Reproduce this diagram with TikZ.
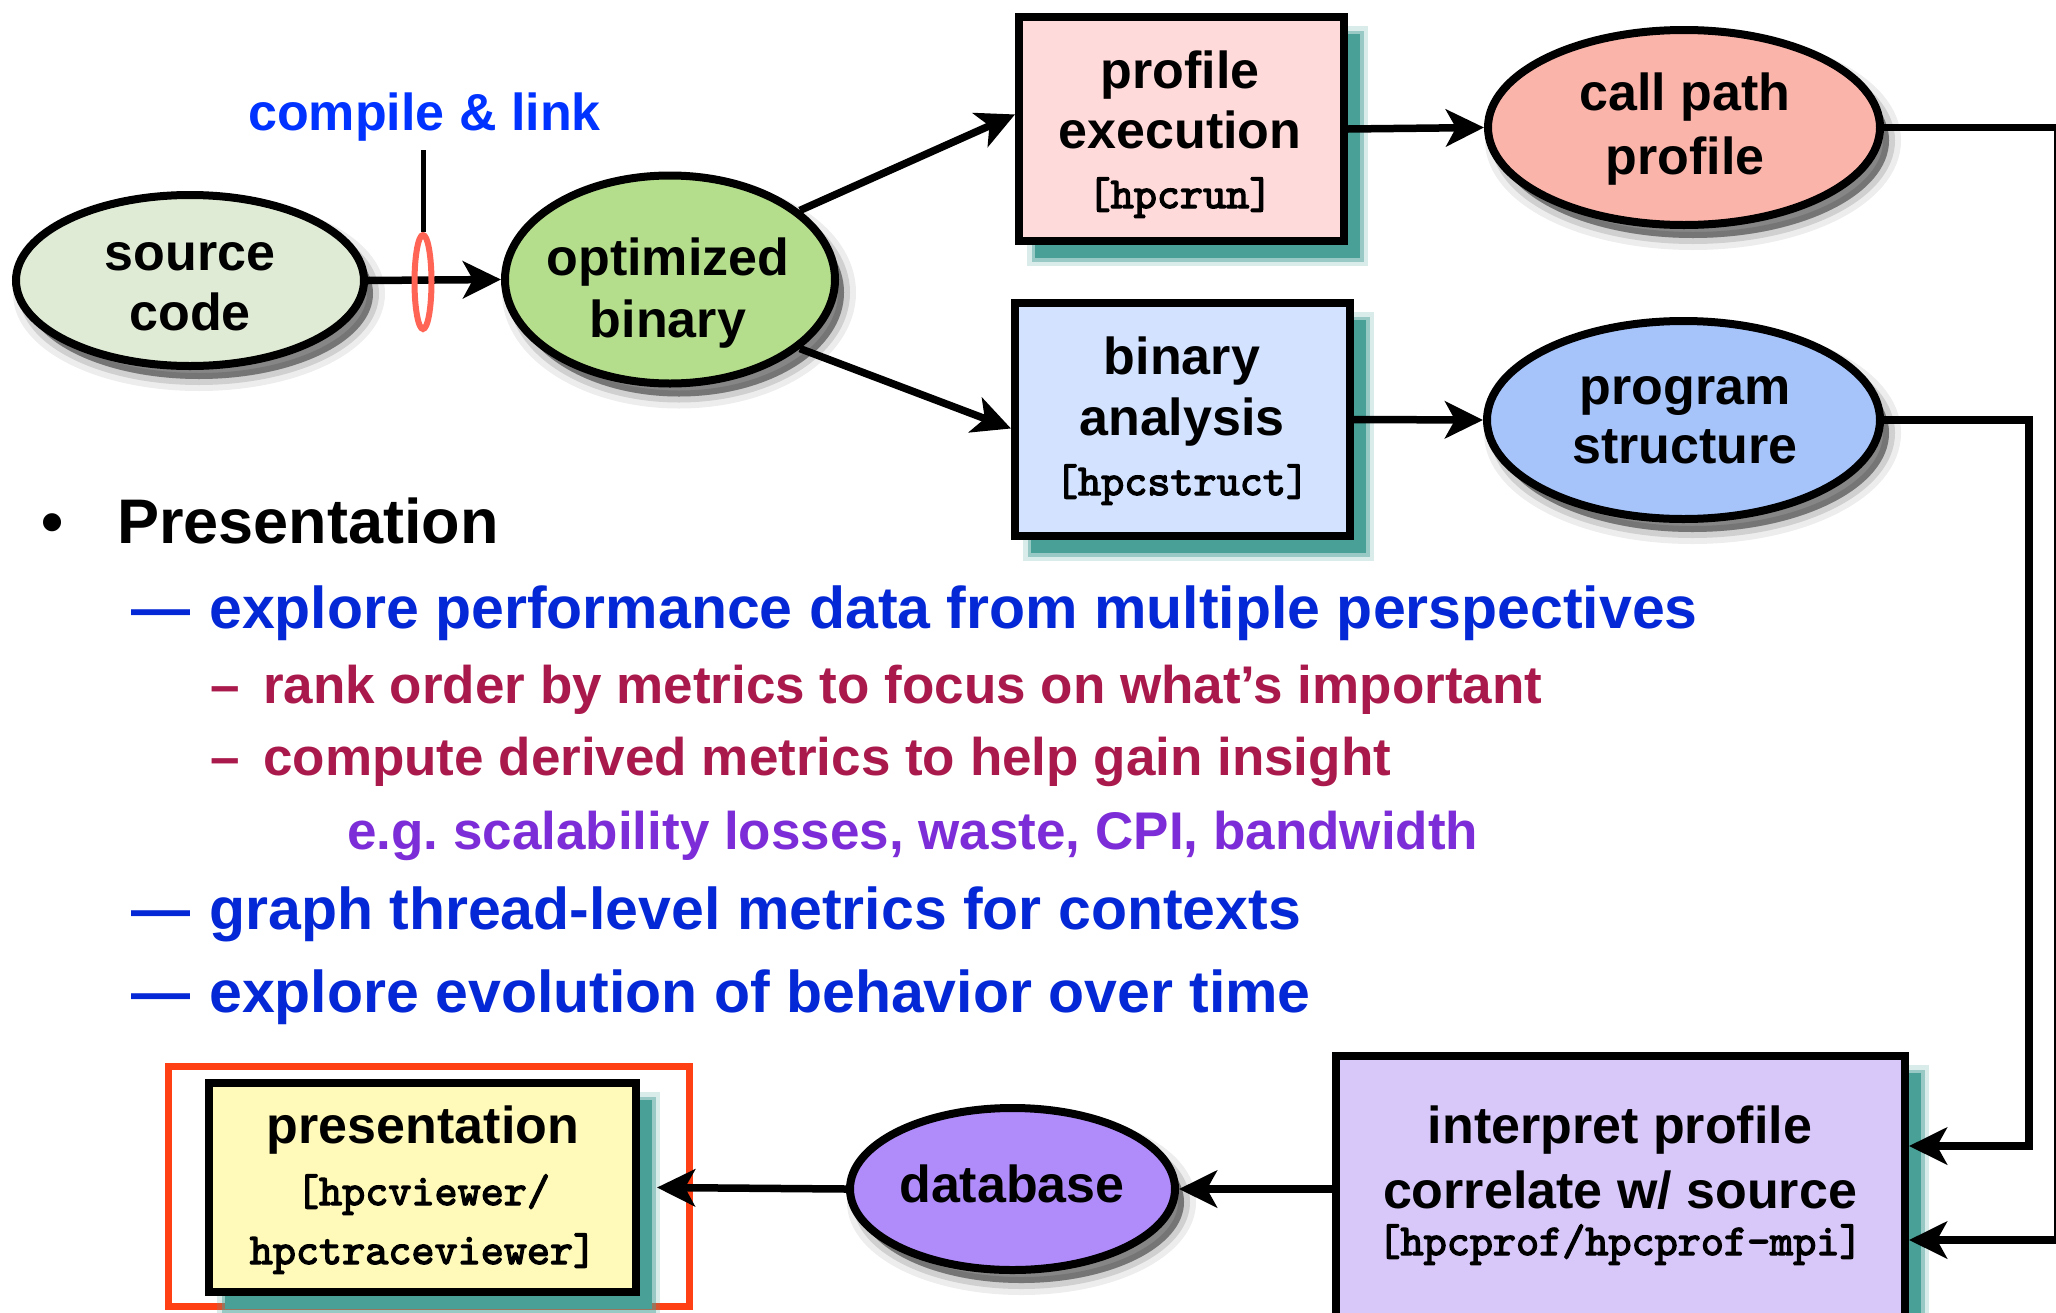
\documentclass[tikz,border=0pt]{standalone}
\usepackage{fontspec}
\setmainfont{Liberation Sans}
\newfontfamily\codefam{lmmono10-regular.otf}[FakeBold=3]
\usetikzlibrary{shapes.geometric,arrows.meta,shadows,calc}
\definecolor{fsrc}{RGB}{224,235,213}
\definecolor{fopt}{RGB}{180,221,140}
\definecolor{fpe}{RGB}{255,218,218}
\definecolor{fcp}{RGB}{251,180,170}
\definecolor{fba}{RGB}{210,226,255}
\definecolor{fps}{RGB}{166,196,250}
\definecolor{fip}{RGB}{216,200,250}
\definecolor{fdb}{RGB}{176,140,250}
\definecolor{fpr}{RGB}{255,250,185}
\definecolor{tealsh}{RGB}{72,160,150}
\definecolor{hlor}{RGB}{255,64,20}
\definecolor{redo}{RGB}{255,100,85}
\definecolor{cblue}{RGB}{0,51,255}
\definecolor{lblue}{RGB}{5,40,215}
\definecolor{crim}{RGB}{170,25,75}
\definecolor{purp}{RGB}{125,45,215}
\newcommand\myf[1]{\fontsize{#1}{#1}\selectfont\bfseries}
\newcommand\myc[1]{\fontsize{#1}{#1}\selectfont}
\tikzset{
  tshadow/.style={
    general shadow={shadow xshift=16pt,shadow yshift=-17pt,fill=tealsh,draw=tealsh,line width=16pt,opacity=0.2},
    general shadow={shadow xshift=16pt,shadow yshift=-17pt,fill=tealsh,draw=tealsh,line width=7pt,opacity=0.45},
    general shadow={shadow xshift=16pt,shadow yshift=-17pt,fill=tealsh,draw=none,opacity=1}},
  gshadow/.style={
    general shadow={shadow xshift=9pt,shadow yshift=-13pt,fill=black,draw=black,line width=24pt,opacity=0.07},
    general shadow={shadow xshift=9pt,shadow yshift=-13pt,fill=black,draw=black,line width=12pt,opacity=0.12},
    general shadow={shadow xshift=9pt,shadow yshift=-13pt,fill=black,draw=none,opacity=0.3}},
  boxshape/.style={rectangle, draw=black, line width=8pt, inner sep=0pt, tshadow},
  ellshape/.style={ellipse, draw=black, line width=8pt, inner sep=0pt, gshadow},
  arr/.style={line width=7.5pt, line join=miter, -{Stealth[length=38pt,width=37pt,inset=10pt]}},
  lbl/.style={inner sep=0pt, anchor=base, font=\myf{52}},
  code/.style={inner sep=0pt, anchor=base, font=\codefam\myc{44}},
  lst/.style={inner sep=0pt, anchor=base west}
}
\begin{document}
\frenchspacing
\begin{tikzpicture}[x=1pt,y=-1pt]
\useasboundingbox (0,0) rectangle (2056,1312);
\clip (0,0) rectangle (2056,1312);
\fill[white] (0,0) rectangle (2056,1312);

% shapes
\node[ellshape, fill=fsrc, minimum width=348pt, minimum height=171pt] (src) at (190,280.5) {};
\node[ellshape, fill=fopt, minimum width=330pt, minimum height=208pt] (opt) at (670,279.5) {};
\node[boxshape, fill=fpe, minimum width=325pt, minimum height=224pt] (pe) at (1181.5,129) {};
\node[ellshape, fill=fcp, minimum width=392pt, minimum height=195pt] (cp) at (1684,127.5) {};
\node[boxshape, fill=fba, minimum width=335pt, minimum height=233pt] (ba) at (1182.5,419.5) {};
\node[ellshape, fill=fps, minimum width=393pt, minimum height=198pt] (ps) at (1683.5,420) {};
\node[boxshape, fill=fip, minimum width=569pt, minimum height=280pt] (ip) at (1620.5,1196) {};
\node[ellshape, fill=fdb, minimum width=325pt, minimum height=162pt] (db) at (1012.5,1189) {};
\node[draw=hlor, line width=7pt, inner sep=0pt, minimum width=521pt, minimum height=240pt] (hl) at (429,1186.75) {};
\node[boxshape, fill=fpr, minimum width=427pt, minimum height=209pt] (pr) at (422.5,1187.5) {};

% labels in shapes
\node[lbl] (tSrc1) at (190,270) {source};
\node[lbl] (tSrc2) at (190,330) {code};
\node[lbl] (tOpt1) at (668,275) {optimized};
\node[lbl] (tOpt2) at (668,337) {binary};
\node[lbl] (tPE1) at (1180,88) {profile};
\node[lbl] (tPE2) at (1180,148) {execution};
\node[code] (tPE3) at (1180,208) {[hpcrun]};
\node[lbl] (tCP1) at (1685,110) {call path};
\node[lbl] (tCP2) at (1685,174) {profile};
\node[lbl] (tBA1) at (1182,374) {binary};
\node[lbl] (tBA2) at (1182,435) {analysis};
\node[code] (tBA3) at (1182,495) {[hpcstruct]};
\node[lbl] (tPS1) at (1685,404) {program};
\node[lbl] (tPS2) at (1685,463) {structure};
\node[lbl] (tIP1) at (1620,1143) {interpret profile};
\node[lbl] (tIP2) at (1620,1208) {correlate w/ source};
\node[code] (tIP3) at (1620,1255) {[hpcprof/hpcprof-mpi]};
\node[lbl] (tDB) at (1012,1202) {database};
\node[lbl] (tPR1) at (423,1143) {presentation};
\node[code] (tPR2) at (423,1205) {[hpcviewer/};
\node[code] (tPR3) at (423,1264) {hpctraceviewer]};

% compile & link
\node[lbl, text=cblue] (tCL) at (424.5,130) {compile \& link};
\draw[arr] (src.east) -- (opt.west);
\node[ellipse, draw=redo, line width=6pt, inner sep=0pt, minimum width=17pt, minimum height=94pt] (cl) at (423,282) {};
\coordinate (tick) at (423,150);
\draw[line width=5pt] (tick) -- (cl.north);

% connectors
\draw[arr] (opt.28) -- (pe.175);
\draw[arr] (opt.-28) -- (ba.183.5);
\draw[arr] (pe.east) -- (cp.west);
\draw[arr] (ba.east) -- (ps.west);
\coordinate (rO) at (2058,0);
\coordinate (rI) at (2029,0);
\coordinate (in1) at ($(ip.east)+(0,-50)$);
\coordinate (in2) at ($(ip.east)+(0,44)$);
\draw[arr] (cp.east) -- (cp.east -| rO) -- (rO |- in2) -- (in2);
\draw[arr] (ps.east) -- (ps.east -| rI) -- (rI |- in1) -- (in1);
\draw[arr] (ip.west |- db.east) -- (db.east);
\draw[arr] (db.west) -- ($(pr.east)+(17,0)$);

% bullet list
\node[lst, font=\myf{63}] (bul) at (41,543) {•};
\node[lst, font=\myf{63}] (tHead) at (117,543) {Presentation};
\node[lst, font=\myf{59}, text=lblue] (l1) at (131,628) {\makebox[78pt][l]{—}explore performance data from multiple perspectives};
\node[lst, font=\myf{53}, text=crim] (l2) at (210,703) {\makebox[53pt][l]{–}rank order by metrics to focus on what’s important};
\node[lst, font=\myf{53}, text=crim] (l3) at (210,775) {\makebox[53pt][l]{–}compute derived metrics to help gain insight};
\node[lst, font=\myf{53}, text=purp] (l4) at (347,849) {e.g. scalability losses, waste, CPI, bandwidth};
\node[lst, font=\myf{59}, text=lblue] (l5) at (131,929) {\makebox[78pt][l]{—}graph thread-level metrics for contexts};
\node[lst, font=\myf{59}, text=lblue] (l6) at (131,1012) {\makebox[78pt][l]{—}explore evolution of behavior over time};
\end{tikzpicture}
\end{document}
